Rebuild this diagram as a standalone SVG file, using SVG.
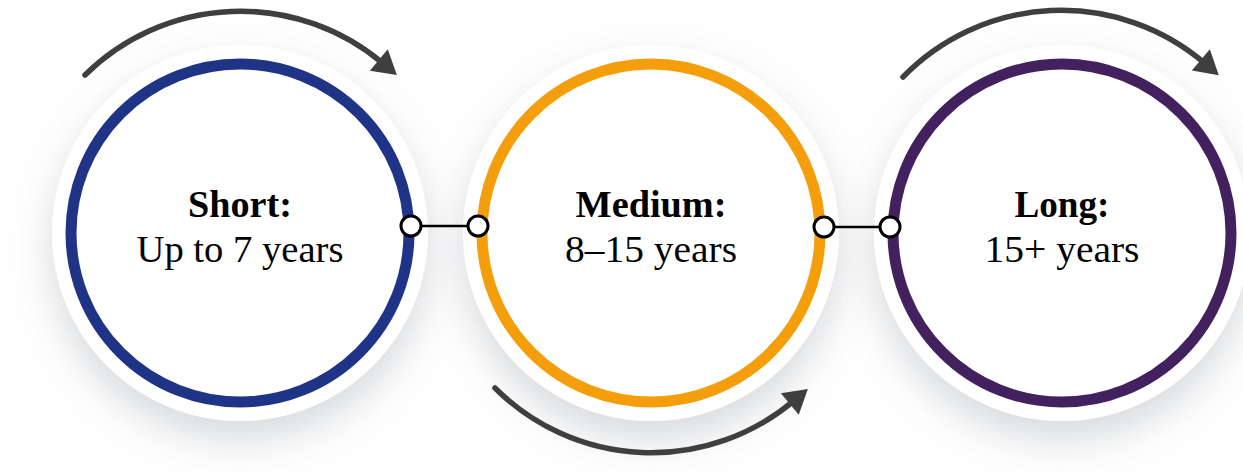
<svg xmlns="http://www.w3.org/2000/svg" width="1243" height="472" viewBox="0 0 1243 472">
  <defs>
    <filter id="sh" x="-40%" y="-40%" width="180%" height="190%">
      <feDropShadow dx="0" dy="18" stdDeviation="20" flood-color="#8a9099" flood-opacity="0.35"/>
    </filter>
    <marker id="ah" markerUnits="userSpaceOnUse" markerWidth="30" markerHeight="30" viewBox="0 -14 24 28" refX="4" refY="0" orient="auto">
      <polygon points="0,-13 22,0 0,13" fill="#3f3f3f"/>
    </marker>
  </defs>
  <style>
    .disc { fill: #ffffff; filter: url(#sh); }
    .ring { fill: none; stroke-width: 11; }
    .arc { fill: none; stroke: #3f3f3f; stroke-width: 5.5; stroke-linecap: round; marker-end: url(#ah); }
    .dot { fill: #ffffff; stroke: #000000; stroke-width: 3; }
    .link { stroke: #000000; stroke-width: 2.5; }
    .t1 { font-family: "Liberation Serif", "Times New Roman", serif; font-size: 38px; font-weight: bold; fill: #000; text-anchor: middle; }
    .t2 { font-family: "Liberation Serif", "Times New Roman", serif; font-size: 38px; fill: #000; text-anchor: middle; }
  </style>
  <rect width="1243" height="472" fill="#ffffff"/>

  <g id="node-short">
    <circle class="disc" cx="240" cy="233" r="188"/>
    <circle class="ring" cx="240" cy="233" r="169" stroke="#1f3486"/>
    <text class="t1" x="240" y="217" textLength="104" lengthAdjust="spacingAndGlyphs">Short:</text>
    <text class="t2" x="240" y="262" textLength="207" lengthAdjust="spacingAndGlyphs">Up to 7 years</text>
  </g>

  <g id="node-medium">
    <circle class="disc" cx="651" cy="233" r="188"/>
    <circle class="ring" cx="651" cy="233" r="169" stroke="#f59e0b"/>
    <text class="t1" x="651" y="217" textLength="151" lengthAdjust="spacingAndGlyphs">Medium:</text>
    <text class="t2" x="651" y="262" textLength="172" lengthAdjust="spacingAndGlyphs">8–15 years</text>
  </g>

  <g id="node-long">
    <circle class="disc" cx="1062" cy="233" r="188"/>
    <circle class="ring" cx="1062" cy="233" r="169" stroke="#43215f"/>
    <text class="t1" x="1062" y="217" textLength="95" lengthAdjust="spacingAndGlyphs">Long:</text>
    <text class="t2" x="1062" y="262" textLength="155" lengthAdjust="spacingAndGlyphs">15+ years</text>
  </g>

  <g id="connectors">
    <path class="arc" d="M 85 75 A 221 221 0 0 1 382.1 62.7"/>
    <path class="arc" d="M 495 388 A 221 221 0 0 0 793.1 401.3"/>
    <path class="arc" d="M 903 77 A 221 221 0 0 1 1204.1 62.7"/>
    <line class="link" x1="411" y1="226" x2="478" y2="226"/>
    <circle class="dot" cx="411" cy="226" r="10"/>
    <circle class="dot" cx="478" cy="226" r="10"/>
    <line class="link" x1="824" y1="227" x2="890" y2="227"/>
    <circle class="dot" cx="824" cy="227" r="10"/>
    <circle class="dot" cx="890" cy="227" r="10"/>
  </g>
</svg>
